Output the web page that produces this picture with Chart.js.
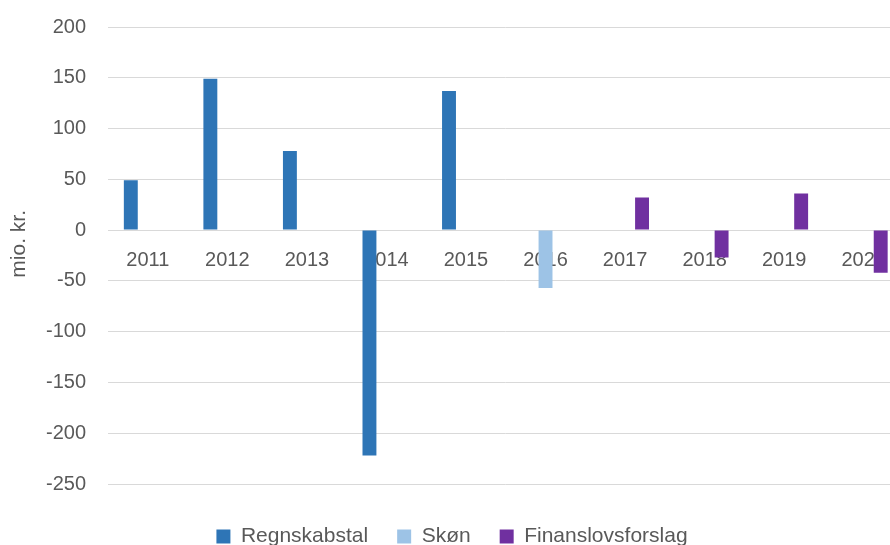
<!DOCTYPE html>
<html>
<head>
<meta charset="utf-8">
<script src="https://cdn.jsdelivr.net/npm/chart.js@4/dist/chart.umd.min.js"></script>
<style>
  body { margin: 0; overflow: hidden; background: #fff; }
  #wrap { position: relative; width: 904px; height: 557px; }
</style>
</head>
<body>
<div id="wrap"><canvas id="chart" width="904" height="557"></canvas></div>
<script>
var years = ['2011', '2012', '2013', '2014', '2015', '2016', '2017', '2018', '2019', '2020'];
var regnskabstal = [49, 149, 78, -222, 137, null, null, null, null, null];
var skon = [null, null, null, null, null, -57, null, null, null, null];
var finanslov = [null, null, null, null, null, null, 32, -27, 36, -42];

var textColor = '#595959';
var gridColor = '#D9D9D9';

var ctx = document.getElementById('chart').getContext('2d');
var chart = new Chart(ctx, {
    type: 'bar',
    data: {
        labels: years,
        datasets: [
            { label: 'Regnskabstal', data: regnskabstal, backgroundColor: '#2E75B6' },
            { label: 'Skøn', data: skon, backgroundColor: '#9DC3E6' },
            { label: 'Finanslovsforslag', data: finanslov, backgroundColor: '#7030A0' }
        ]
    },
    options: {
        responsive: false,
        animation: false,
        categoryPercentage: 0.64,
        barPercentage: 0.82,
        layout: { padding: { top: 27, left: 0, right: 0, bottom: 0 } },
        font: { family: '"Liberation Sans", Arial, sans-serif' },
        scales: {
            x: {
                position: { y: 0 },
                grid: { display: false, drawTicks: false },
                border: { display: true, color: gridColor, width: 1 },
                ticks: { color: textColor, font: { size: 20 }, padding: 18, maxRotation: 0, autoSkip: false }
            },
            x2: {
                type: 'category',
                labels: years,
                position: 'bottom',
                grid: { display: false, drawTicks: false },
                border: { display: false },
                ticks: { display: false },
                afterFit: function (scale) { scale.height = 13; }
            },
            y: {
                min: -250,
                max: 200,
                ticks: { stepSize: 50, color: textColor, font: { size: 20 }, padding: 22 },
                grid: { color: gridColor, lineWidth: 1, drawTicks: false },
                border: { display: false },
                title: {
                    display: true,
                    text: '    mio. kr.',
                    color: textColor,
                    font: { size: 21 },
                    padding: { top: 7, bottom: 0 }
                },
                afterFit: function (scale) {
                    scale.width = 108;
                    scale.paddingTop = 12;
                    scale.paddingBottom = 12;
                }
            }
        },
        plugins: {
            legend: {
                position: 'bottom',
                labels: {
                    color: textColor,
                    font: { size: 21 },
                    boxWidth: 14,
                    boxHeight: 14,
                    padding: 29
                }
            },
            tooltip: { enabled: false }
        }
    }
});
</script>
</body>
</html>
